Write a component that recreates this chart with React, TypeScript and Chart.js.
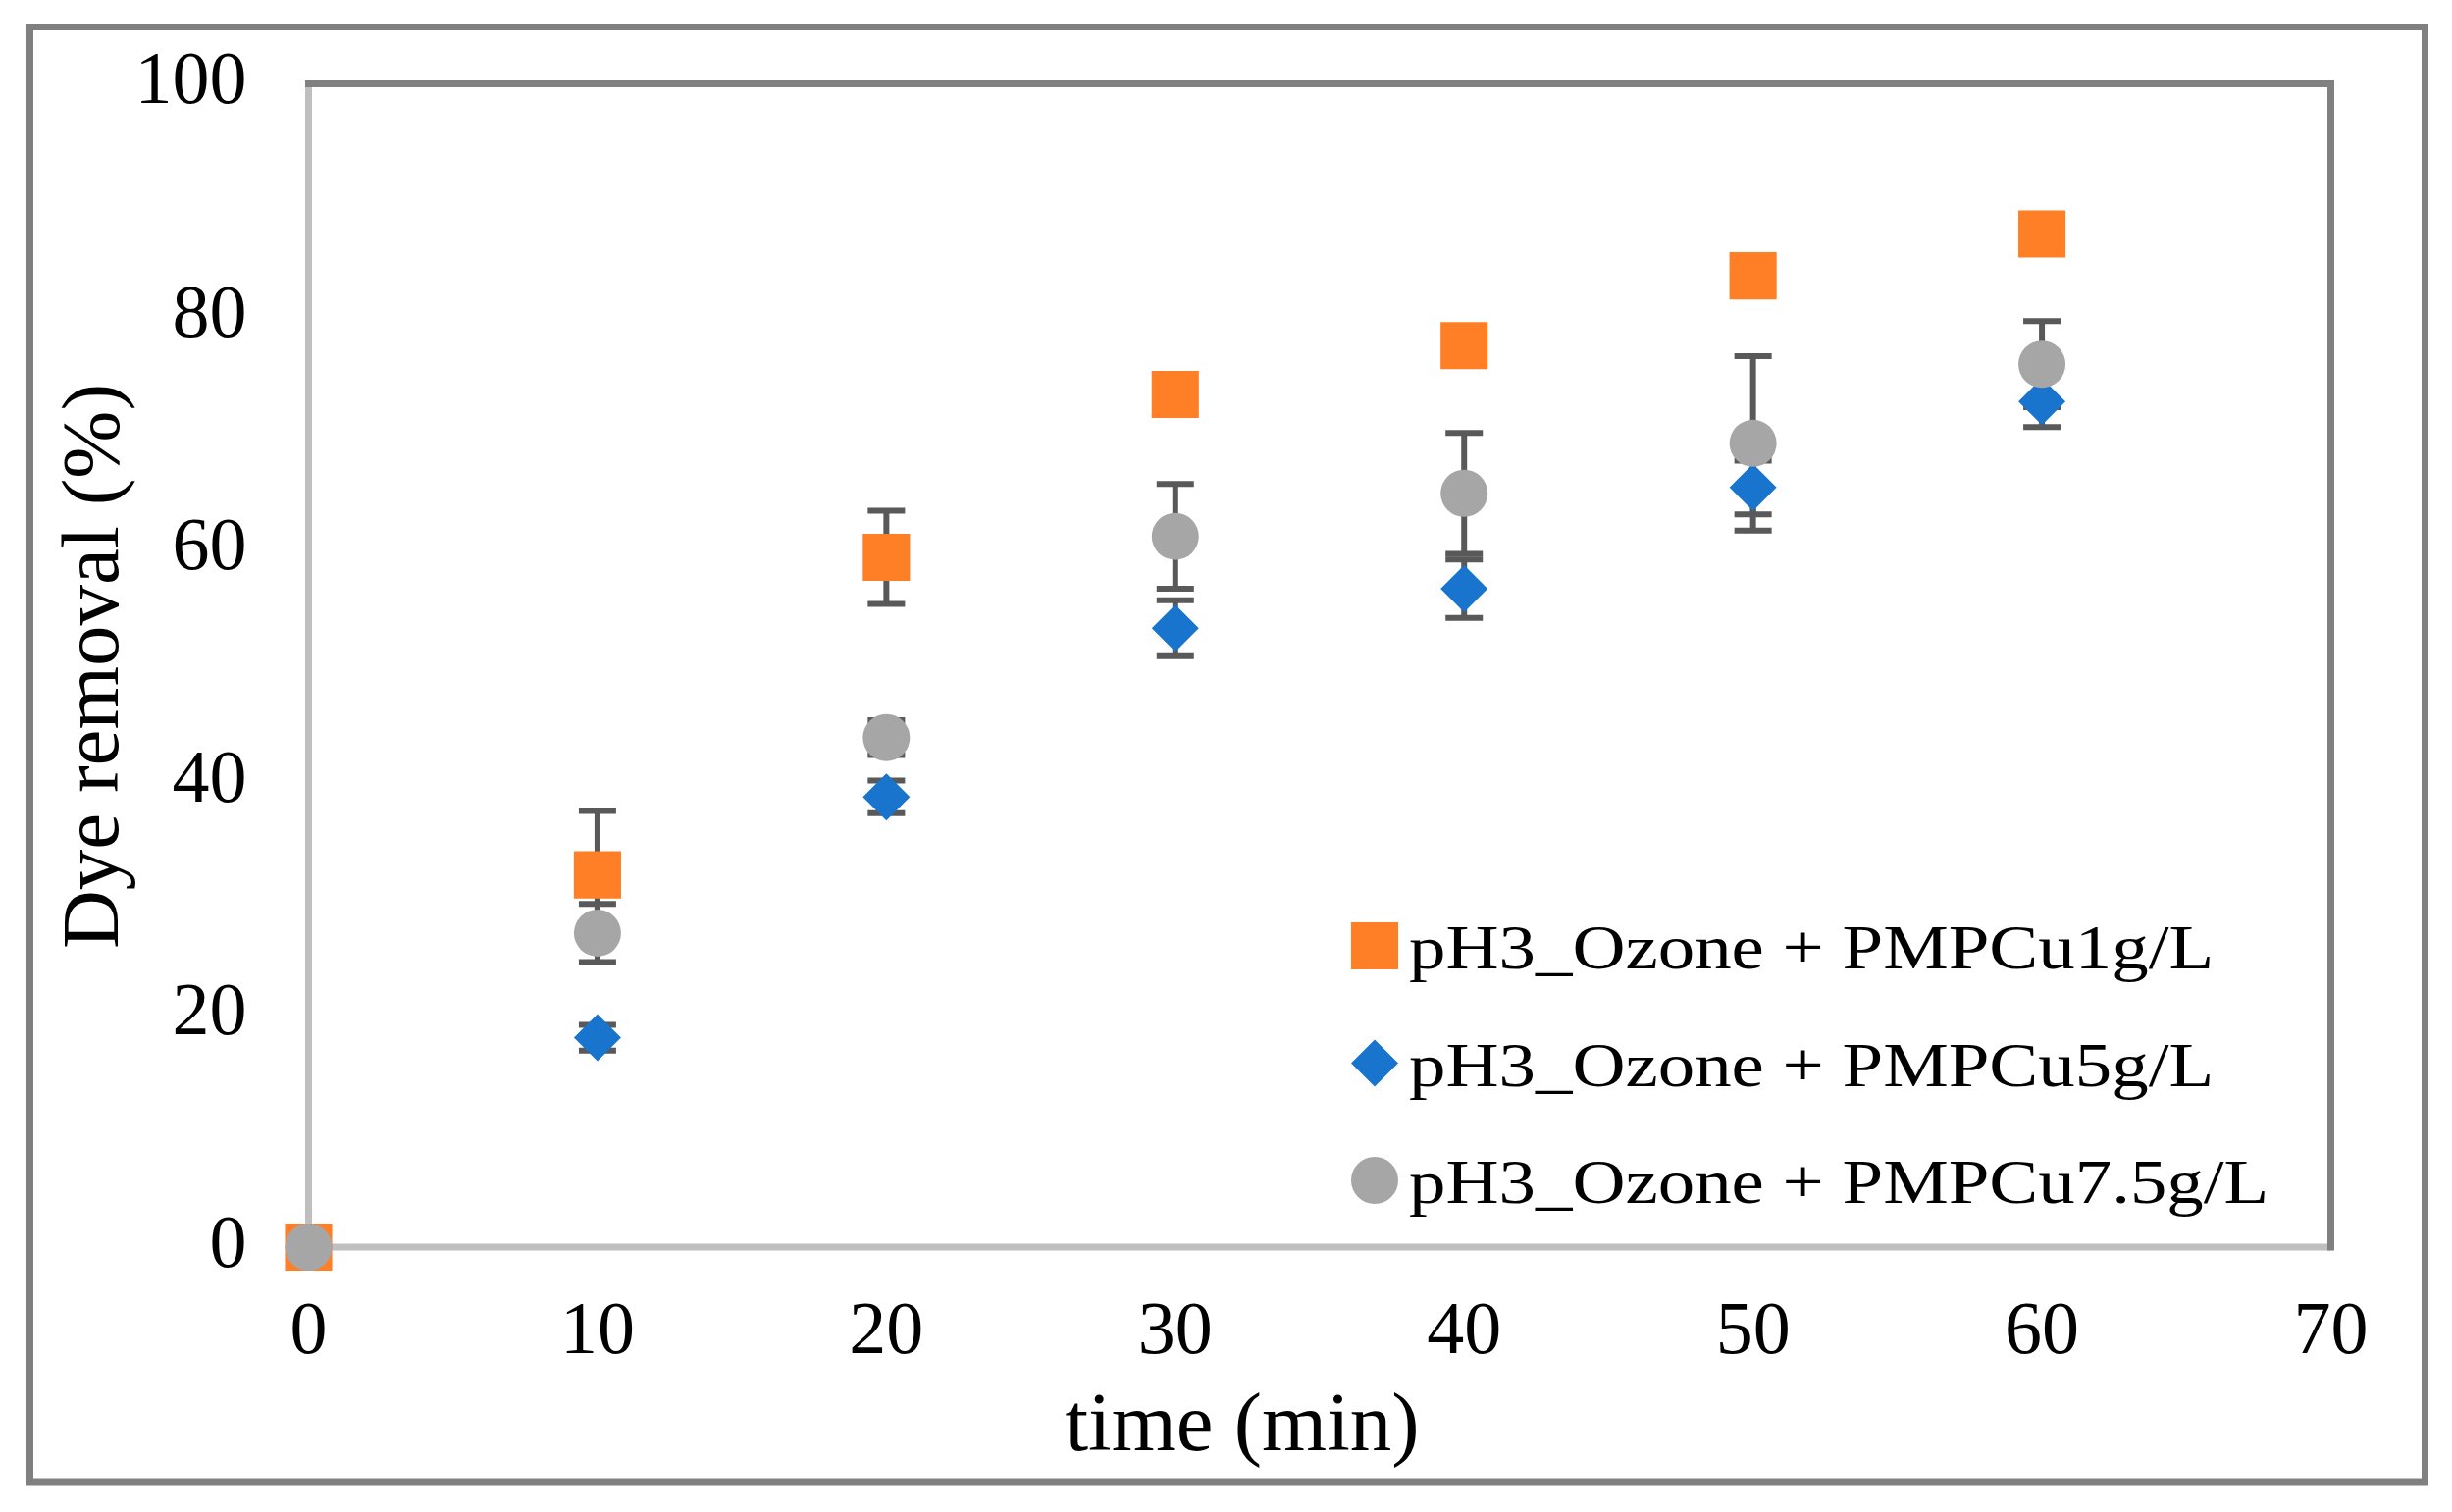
import React, { useEffect, useRef } from 'react';
import { Chart, registerables } from 'chart.js';
import { drawPoint } from 'chart.js/helpers';

Chart.register(...registerables);

// ---------- data ----------
const timeMin = [0, 10, 20, 30, 40, 50, 60];
const removal1g = [0, 32.0, 59.3, 73.3, 77.5, 83.5, 87.1];
const err1g = [0, 5.5, 4.0, 1.0, 1.0, 1.0, 1.0];
const removal5g = [0, 18.0, 38.7, 53.2, 56.6, 65.3, 72.7];
const err5g = [0, 1.1, 1.4, 2.4, 2.5, 2.3, 2.2];
const removal75g = [0, 27.0, 43.8, 61.1, 64.8, 69.1, 75.9];
const err75g = [0, 2.5, 1.5, 4.5, 5.2, 7.5, 3.7];
const seriesLabels = [
  'pH3_Ozone + PMPCu1g/L',
  'pH3_Ozone + PMPCu5g/L',
  'pH3_Ozone + PMPCu7.5g/L',
];
const xTickValues = [0, 10, 20, 30, 40, 50, 60, 70];
const yTickValues = [0, 20, 40, 60, 80, 100];
const xTitle = 'time (min)';
const yTitle = 'Dye removal (%)';

const FONT = "'Liberation Serif', 'Times New Roman', serif";

const toPoints = (ys: number[]) => timeMin.map((t, i) => ({ x: t, y: ys[i] }));

const decorPlugin = {
  id: 'decor',
  beforeDraw(chart: any) {
    const { ctx, width, height } = chart;
    ctx.save();
    ctx.fillStyle = '#ffffff';
    ctx.fillRect(0, 0, width, height);
    ctx.strokeStyle = '#808080';
    ctx.lineWidth = 7;
    ctx.strokeRect(30.5, 27.5, 2441, 1482.5);
    ctx.restore();
  },
  beforeDatasetsDraw(chart: any) {
    const { ctx, chartArea: a, scales } = chart;
    const line = (x1: number, y1: number, x2: number, y2: number) => {
      ctx.beginPath();
      ctx.moveTo(x1, y1);
      ctx.lineTo(x2, y2);
      ctx.stroke();
    };
    ctx.save();
    ctx.lineCap = 'butt';
    ctx.lineWidth = 7;
    ctx.strokeStyle = '#BFBFBF';
    line(a.left, a.top, a.left, a.bottom + 3.5);
    line(a.left - 3.5, a.bottom, a.right, a.bottom);
    ctx.strokeStyle = '#808080';
    line(a.left - 3.5, a.top, a.right + 3.5, a.top);
    line(a.right, a.top - 3.5, a.right, a.bottom + 3.5);

    // error bars
    ctx.strokeStyle = '#595959';
    ctx.lineWidth = 6;
    const xs = scales.x;
    const ys = scales.y;
    chart.data.datasets.forEach((ds: any) => {
      const errs: number[] = ds.errorBars || [];
      ds.data.forEach((p: any, j: number) => {
        const e = errs[j] || 0;
        if (e <= 0) return;
        const x = xs.getPixelForValue(p.x);
        const yHi = ys.getPixelForValue(p.y + e);
        const yLo = ys.getPixelForValue(p.y - e);
        line(x, yHi, x, yLo);
        line(x - 19, yHi, x + 19, yHi);
        line(x - 19, yLo, x + 19, yLo);
      });
    });
    ctx.restore();
  },
  afterDraw(chart: any) {
    const { ctx } = chart;
    ctx.save();
    // legend
    chart.data.datasets.forEach((ds: any, i: number) => {
      const cy = 964 + i * 119.5;
      ctx.fillStyle = ds.backgroundColor;
      drawPoint(ctx, { pointStyle: ds.pointStyle, radius: ds.pointRadius, rotation: 0, borderWidth: 0 } as any, 1401, cy);
      ctx.save();
      ctx.fillStyle = '#000';
      ctx.font = `64px ${FONT}`;
      ctx.textBaseline = 'alphabetic';
      ctx.textAlign = 'left';
      ctx.translate(1436, cy + 23);
      ctx.scale(1.17, 1);
      ctx.fillText(ds.label, 0, 0);
      ctx.restore();
    });
    // axis titles
    ctx.fillStyle = '#000';
    ctx.textAlign = 'center';
    ctx.textBaseline = 'alphabetic';
    ctx.font = `85px ${FONT}`;
    ctx.fillText(xTitle, 1266, 1478);
    ctx.save();
    ctx.translate(120, 679);
    ctx.rotate(-Math.PI / 2);
    ctx.font = `83px ${FONT}`;
    ctx.fillText(yTitle, 0, 0);
    ctx.restore();
    ctx.restore();
  },
};

export default function App() {
  const ref = useRef<HTMLCanvasElement | null>(null);
  useEffect(() => {
    if (!ref.current) return;
    const chart = new Chart(ref.current, {
      type: 'scatter',
      data: {
        datasets: [
          {
            label: seriesLabels[0],
            data: toPoints(removal1g),
            errorBars: err1g,
            pointStyle: 'rect',
            pointRadius: 34,
            pointHoverRadius: 34,
            backgroundColor: '#FF7F27',
            borderWidth: 0,
            showLine: false,
            clip: false,
            order: 3,
          } as any,
          {
            label: seriesLabels[1],
            data: toPoints(removal5g),
            errorBars: err5g,
            pointStyle: 'rectRot',
            pointRadius: 24,
            pointHoverRadius: 24,
            backgroundColor: '#1874CD',
            borderWidth: 0,
            showLine: false,
            clip: false,
            order: 2,
          } as any,
          {
            label: seriesLabels[2],
            data: toPoints(removal75g),
            errorBars: err75g,
            pointStyle: 'circle',
            pointRadius: 24,
            pointHoverRadius: 24,
            backgroundColor: '#A6A6A6',
            borderWidth: 0,
            showLine: false,
            clip: false,
            order: 1,
          } as any,
        ],
      },
      options: {
        animation: false,
        responsive: false,
        devicePixelRatio: 1,
        events: [],
        layout: { padding: { left: 0, top: 85.5, right: 123.5, bottom: 0 } },
        plugins: {
          legend: { display: false },
          tooltip: { enabled: false },
          title: { display: false },
        },
        scales: {
          x: {
            type: 'linear',
            min: 0,
            max: 70,
            afterBuildTicks: (s: any) => {
              s.ticks = xTickValues.map((v) => ({ value: v }));
            },
            afterFit: (s: any) => {
              s.height = 270;
              s.paddingLeft = 0;
              s.paddingRight = 0;
            },
            grid: { display: false, drawTicks: false },
            border: { display: false },
            ticks: {
              color: '#000',
              font: { family: FONT, size: 76 },
              padding: 42,
              maxRotation: 0,
              autoSkip: false,
            },
          },
          y: {
            type: 'linear',
            min: 0,
            max: 100,
            afterBuildTicks: (s: any) => {
              s.ticks = yTickValues.map((v) => ({ value: v }));
            },
            afterFit: (s: any) => {
              s.width = 314.5;
              s.paddingTop = 0;
              s.paddingBottom = 0;
            },
            grid: { display: false, drawTicks: false },
            border: { display: false },
            ticks: {
              color: '#000',
              font: { family: FONT, size: 76 },
              padding: 63,
              autoSkip: false,
            },
          },
        },
      } as any,
      plugins: [decorPlugin],
    });
    return () => chart.destroy();
  }, []);
  return (
    <div style={{ position: 'absolute', left: 0, top: 0, width: 2499, height: 1541 }}>
      <canvas ref={ref} width={2499} height={1541} style={{ display: 'block' }} />
    </div>
  );
}
